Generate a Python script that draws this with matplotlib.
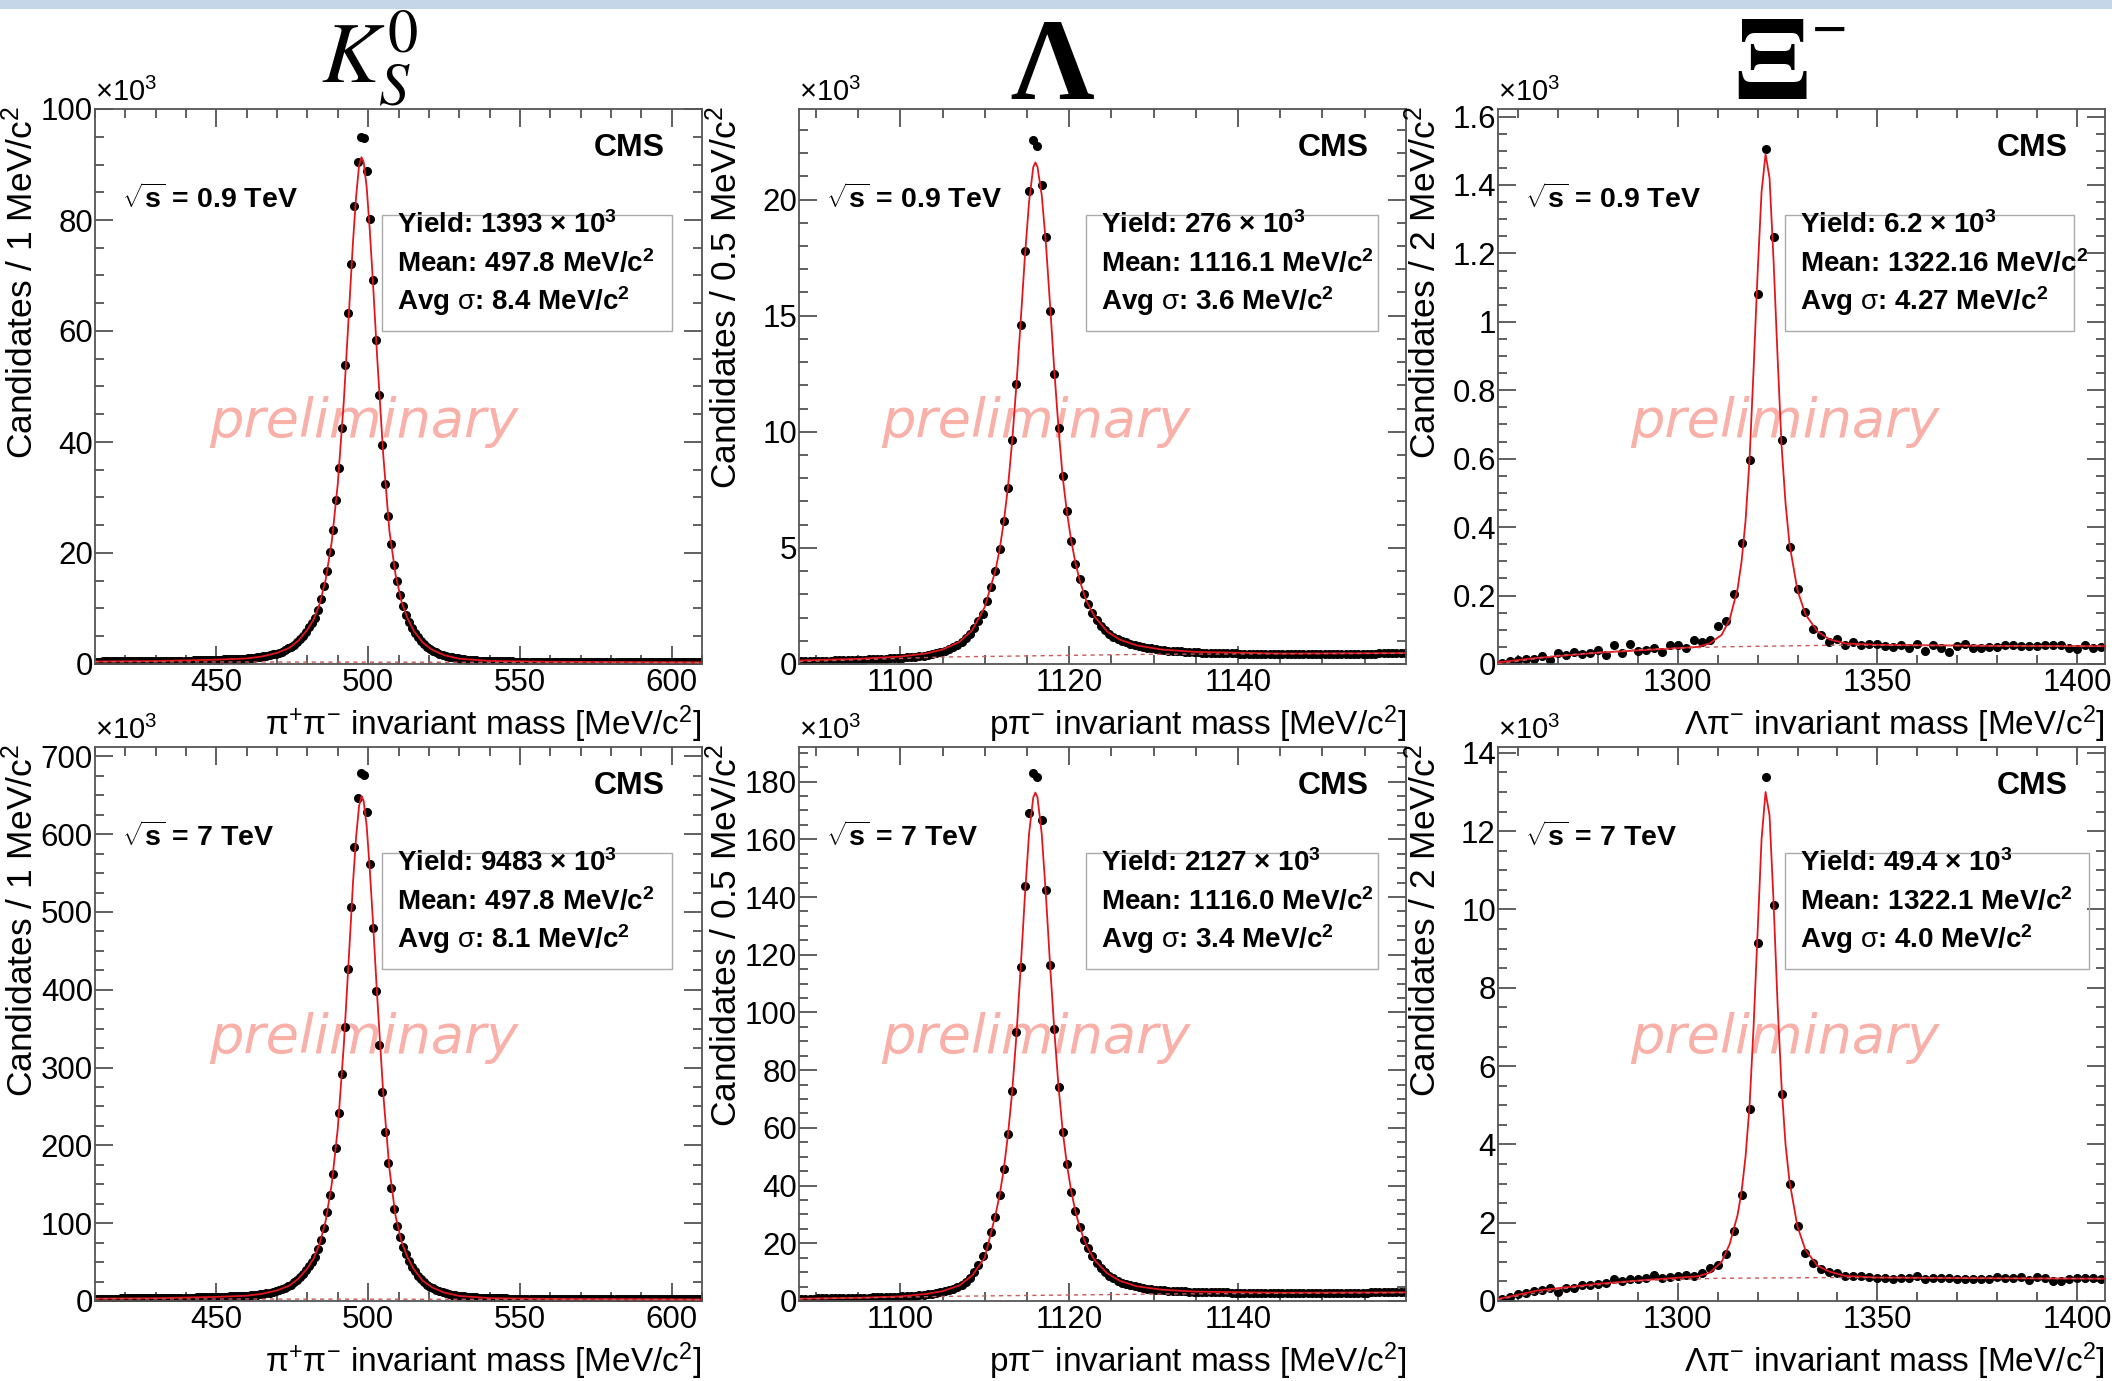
import numpy as np
import matplotlib
matplotlib.use('Agg')
import matplotlib.pyplot as plt
from matplotlib.patches import Rectangle
from matplotlib.ticker import MultipleLocator, FuncFormatter

plt.rcParams['font.family'] = ['Liberation Sans', 'DejaVu Sans']
plt.rcParams['mathtext.fontset'] = 'custom'
plt.rcParams['mathtext.rm'] = 'Liberation Sans'
plt.rcParams['mathtext.it'] = 'Liberation Sans:italic'
plt.rcParams['mathtext.bf'] = 'Liberation Sans:bold'

# bin centres (MeV/c^2)
k0s_x = np.arange(410.5, 610.0, 1.0)
lam_x = np.arange(1088.25, 1160.0, 0.5)
xi_x = np.arange(1256.0, 1407.0, 2.0)

# ---- K0S, candidates x10^3 per 1 MeV ----
k0s_09 = [0.45, 0.45, 0.46, 0.46, 0.46, 0.47, 0.47, 0.47, 0.48, 0.48,
          0.48, 0.49, 0.49, 0.50, 0.50, 0.51, 0.51, 0.52, 0.52, 0.53,
          0.53, 0.54, 0.55, 0.55, 0.56, 0.57, 0.58, 0.59, 0.60, 0.61,
          0.62, 0.63, 0.64, 0.66, 0.67, 0.69, 0.70, 0.72, 0.74, 0.76,
          0.78, 0.80, 0.82, 0.84, 0.86, 0.88, 0.90, 0.92, 0.94, 0.97,
          1.01, 1.07, 1.13, 1.20, 1.28, 1.37, 1.47, 1.59, 1.72, 1.87,
          2.05, 2.25, 2.50, 2.80, 3.10, 3.50, 4.00, 4.50, 5.10, 5.80,
          6.60, 7.40, 8.30, 9.80, 11.8, 14.0, 16.8, 20.2, 24.1, 29.5,
          35.3, 42.6, 53.9, 63.3, 72.1, 82.5, 90.5, 94.9, 94.8, 88.9,
          80.1, 69.2, 58.3, 48.4, 39.5, 32.4, 26.7, 21.7, 17.8, 14.9,
          12.4, 10.4, 8.9, 7.6, 6.5, 5.6, 4.8, 4.1, 3.6, 3.1,
          2.7, 2.4, 2.1, 1.85, 1.65, 1.48, 1.33, 1.2, 1.09, 1.0,
          0.92, 0.85, 0.79, 0.74, 0.70, 0.66, 0.63, 0.60, 0.58, 0.56,
          0.54, 0.52, 0.51, 0.50, 0.49, 0.48, 0.47, 0.46, 0.45, 0.45,
          0.44, 0.44, 0.43, 0.43, 0.42, 0.42, 0.41, 0.41, 0.41, 0.40,
          0.40, 0.40, 0.39, 0.39, 0.39, 0.38, 0.38, 0.38, 0.37, 0.37,
          0.37, 0.37, 0.36, 0.36, 0.36, 0.36, 0.35, 0.35, 0.35, 0.35,
          0.34, 0.34, 0.34, 0.34, 0.33, 0.33, 0.33, 0.33, 0.33, 0.32,
          0.32, 0.32, 0.32, 0.32, 0.31, 0.31, 0.31, 0.31, 0.31, 0.30,
          0.30, 0.30, 0.30, 0.30, 0.30, 0.29, 0.29, 0.29, 0.29, 0.29]
k0s_7 = [3.0, 3.0, 3.1, 3.1, 3.1, 3.2, 3.2, 3.2, 3.3, 3.3,
         3.3, 3.3, 3.4, 3.4, 3.4, 3.5, 3.5, 3.5, 3.6, 3.6,
         3.6, 3.7, 3.7, 3.8, 3.8, 3.9, 3.9, 4.0, 4.1, 4.1,
         4.2, 4.3, 4.4, 4.5, 4.6, 4.7, 4.8, 4.9, 5.0, 5.2,
         5.3, 5.4, 5.6, 5.7, 5.9, 6.0, 6.2, 6.3, 6.5, 6.6,
         6.9, 7.3, 7.7, 8.2, 8.7, 9.3, 10.0, 10.8, 11.7, 12.7,
         13.9, 15.3, 17.0, 19.0, 21.1, 23.8, 27.2, 30.6, 34.7, 39.4,
         44.9, 50.3, 56.4, 66.6, 79, 94, 114, 136, 163, 197,
         241, 292, 352, 427, 507, 584, 647, 678, 676, 629,
         562, 479, 399, 329, 268, 217, 178, 145, 118, 97,
         82, 70, 60, 51.5, 44, 38, 32.6, 27.9, 24.5, 21.1,
         18.4, 16.3, 14.3, 12.6, 11.2, 10.1, 9.0, 8.2, 7.4, 6.8,
         6.3, 5.8, 5.4, 5.0, 4.8, 4.5, 4.3, 4.1, 3.9, 3.8,
         3.7, 3.5, 3.5, 3.4, 3.3, 3.3, 3.2, 3.1, 3.1, 3.1,
         3.0, 3.0, 2.9, 2.9, 2.9, 2.9, 2.8, 2.8, 2.8, 2.7,
         2.7, 2.7, 2.7, 2.7, 2.7, 2.6, 2.6, 2.6, 2.5, 2.5,
         2.5, 2.5, 2.5, 2.5, 2.4, 2.4, 2.4, 2.4, 2.4, 2.4,
         2.3, 2.3, 2.3, 2.3, 2.3, 2.2, 2.2, 2.2, 2.2, 2.2,
         2.2, 2.2, 2.2, 2.2, 2.1, 2.1, 2.1, 2.1, 2.1, 2.1,
         2.1, 2.1, 2.0, 2.0, 2.0, 2.0, 2.0, 2.0, 2.0, 2.0]
k0s_fit_x = [410, 430, 450, 460, 465, 470, 474, 477, 480, 482,
             484, 486, 488, 490, 492, 494, 495, 496, 497, 497.8,
             498.5, 499.5, 500.5, 501.5, 503, 505, 507, 509, 511, 513,
             515, 518, 521, 525, 530, 540, 560, 610]
k0s_fit_09 = [0.45, 0.53, 0.78, 1.0, 1.35, 2.0, 2.9, 4.2, 6.2, 8.0,
              10.8, 15.2, 22.0, 32.5, 47.5, 66.5, 76.0, 84.0, 89.8, 91.3,
              90.5, 86.0, 78.5, 69.5, 55.0, 37.5, 24.0, 16.2, 11.2, 8.2,
              6.0, 3.85, 2.6, 1.6, 0.95, 0.55, 0.4, 0.3]
k0s_fit_7 = [3.0, 3.6, 5.3, 6.8, 9.2, 13.6, 19.7, 28.6, 42.2, 54.4,
             73.4, 103, 150, 222, 330, 466, 537, 595, 636, 649,
             643, 611, 557, 493, 390, 265, 170, 110, 76, 56,
             41, 26, 17.7, 10.9, 6.5, 3.7, 2.7, 2.0]
k0s_bkg_x = [410, 610]
k0s_bkg_09 = [0.40, 0.25]
k0s_bkg_7 = [2.8, 1.8]

# ---- Lambda, candidates x10^3 per 0.5 MeV ----
lam_09 = [0.12, 0.12, 0.13, 0.13, 0.14, 0.14, 0.15, 0.15, 0.16, 0.16,
          0.17, 0.17, 0.18, 0.18, 0.19, 0.19, 0.20, 0.21, 0.21, 0.22,
          0.23, 0.24, 0.25, 0.26, 0.27, 0.28, 0.30, 0.32, 0.34, 0.36,
          0.40, 0.44, 0.48, 0.53, 0.58, 0.64, 0.72, 0.82, 0.95, 1.10,
          1.28, 1.57, 1.86, 2.14, 2.72, 3.33, 4.02, 4.96, 6.16, 7.56,
          9.65, 12.06, 14.58, 17.80, 20.36, 22.58, 22.32, 20.63, 18.37, 15.20,
          12.48, 10.18, 8.08, 6.58, 5.30, 4.29, 3.67, 3.02, 2.58, 2.20,
          1.91, 1.65, 1.45, 1.30, 1.18, 1.08, 1.00, 0.93, 0.87, 0.82,
          0.77, 0.73, 0.70, 0.67, 0.64, 0.62, 0.60, 0.58, 0.57, 0.55,
          0.54, 0.53, 0.52, 0.51, 0.50, 0.49, 0.49, 0.48, 0.48, 0.47,
          0.47, 0.46, 0.46, 0.46, 0.45, 0.45, 0.45, 0.45, 0.44, 0.44,
          0.44, 0.44, 0.44, 0.43, 0.43, 0.43, 0.43, 0.43, 0.43, 0.43,
          0.43, 0.43, 0.43, 0.43, 0.43, 0.43, 0.43, 0.44, 0.44, 0.44,
          0.44, 0.44, 0.44, 0.45, 0.45, 0.45, 0.45, 0.46, 0.46, 0.46,
          0.47, 0.47, 0.48, 0.48]
lam_7 = [0.80, 0.82, 0.84, 0.86, 0.88, 0.90, 0.92, 0.94, 0.96, 0.98,
         1.00, 1.03, 1.06, 1.09, 1.12, 1.15, 1.19, 1.23, 1.27, 1.31,
         1.36, 1.41, 1.47, 1.53, 1.60, 1.68, 1.77, 1.87, 1.98, 2.12,
         2.3, 2.5, 2.75, 3.05, 3.4, 3.8, 4.3, 4.9, 5.6, 6.6,
         7.8, 10.1, 12.4, 15.6, 19.1, 23.8, 29.1, 36.9, 45.9, 58.0,
         72.8, 93.3, 115.9, 143.9, 169.0, 183.0, 181.5, 166.7, 142.6, 116.6,
         94.1, 74.3, 58.6, 47.4, 37.8, 31.1, 25.7, 21.3, 18.2, 15.6,
         13.3, 11.5, 10.0, 8.8, 7.8, 7.0, 6.4, 5.9, 5.5, 5.1,
         4.8, 4.5, 4.3, 4.1, 3.95, 3.8, 3.7, 3.6, 3.5, 3.4,
         3.35, 3.3, 3.25, 3.2, 3.15, 3.1, 3.1, 3.05, 3.0, 3.0,
         2.95, 2.95, 2.9, 2.9, 2.9, 2.85, 2.85, 2.85, 2.85, 2.8,
         2.8, 2.8, 2.8, 2.8, 2.8, 2.8, 2.8, 2.8, 2.8, 2.8,
         2.8, 2.8, 2.8, 2.8, 2.8, 2.85, 2.85, 2.85, 2.85, 2.85,
         2.9, 2.9, 2.9, 2.9, 2.9, 2.95, 2.95, 2.95, 3.0, 3.0,
         3.0, 3.0, 3.05, 3.05]
lam_fit_x = [1088, 1095, 1100, 1103, 1105, 1107, 1108.5, 1110,
             1111.25, 1111.75, 1112.25, 1112.75, 1113.25, 1113.75, 1114.25,
             1114.75, 1115.25, 1115.75, 1116.0, 1116.25, 1116.75, 1117.25,
             1117.75, 1118.25, 1118.75, 1119.25, 1119.75, 1120.25, 1120.75,
             1121.25, 1122, 1123, 1124.5, 1126, 1128, 1131, 1135, 1145, 1160]
lam_fit_09 = [0.15, 0.22, 0.32, 0.45, 0.62, 0.95, 1.45, 2.45,
              4.0, 4.9, 6.1, 7.6, 9.6, 12.0, 14.7,
              17.5, 19.9, 21.4, 21.6, 21.4, 20.2, 18.1,
              15.4, 12.6, 10.1, 8.0, 6.5, 5.3, 4.35,
              3.6, 2.75, 2.05, 1.4, 1.05, 0.8, 0.62, 0.52, 0.45, 0.47]
lam_fit_7 = [0.8, 1.1, 1.6, 2.4, 3.4, 5.4, 8.8, 15.0,
             29.5, 36.5, 45.5, 57.5, 72.5, 92.0, 115.0,
             140.0, 162.0, 174.5, 176.2, 174.5, 162.0, 140.5,
             116.0, 93.5, 74.0, 58.5, 47.0, 38.0, 31.0,
             25.5, 19.5, 14.2, 9.6, 7.0, 5.1, 3.9, 3.25, 2.85, 3.0]
lam_bkg_x = [1088, 1105, 1130, 1160]
lam_bkg_09 = [0.10, 0.30, 0.42, 0.46]
lam_bkg_7 = [0.7, 1.6, 2.4, 2.9]

# ---- Xi-, candidates x10^3 per 2 MeV ----
xi_09 = [0.003, 0.010, 0.013, 0.014, 0.016, 0.023, 0.013, 0.033, 0.026, 0.036,
         0.029, 0.033, 0.042, 0.026, 0.056, 0.033, 0.059, 0.039, 0.042, 0.046,
         0.036, 0.055, 0.056, 0.046, 0.069, 0.065, 0.069, 0.111, 0.126, 0.205,
         0.354, 0.597, 1.081, 1.505, 1.248, 0.655, 0.343, 0.218, 0.152, 0.102,
         0.085, 0.065, 0.074, 0.055, 0.065, 0.055, 0.058, 0.057, 0.052, 0.050,
         0.055, 0.048, 0.058, 0.038, 0.055, 0.048, 0.035, 0.052, 0.058, 0.048,
         0.047, 0.050, 0.050, 0.055, 0.055, 0.052, 0.052, 0.052, 0.055, 0.055,
         0.055, 0.047, 0.045, 0.055, 0.047, 0.050]
xi_7 = [0.06, 0.11, 0.17, 0.20, 0.26, 0.28, 0.32, 0.23, 0.32, 0.34,
        0.40, 0.40, 0.43, 0.46, 0.55, 0.51, 0.57, 0.57, 0.59, 0.66,
        0.59, 0.62, 0.63, 0.66, 0.63, 0.72, 0.85, 0.91, 1.20, 1.79,
        2.71, 4.90, 9.14, 13.39, 10.12, 5.28, 2.99, 1.91, 1.23, 0.97,
        0.83, 0.74, 0.71, 0.63, 0.63, 0.63, 0.62, 0.60, 0.59, 0.56,
        0.58, 0.60, 0.64, 0.55, 0.60, 0.58, 0.60, 0.56, 0.55, 0.55,
        0.56, 0.56, 0.61, 0.58, 0.60, 0.62, 0.54, 0.62, 0.60, 0.52,
        0.50, 0.57, 0.58, 0.58, 0.58, 0.57]
xi_fit_x = [1255, 1265, 1280, 1295, 1305, 1308, 1311, 1313, 1315, 1316,
            1317, 1318, 1319, 1320, 1321, 1322, 1323, 1324, 1325, 1326,
            1327, 1328, 1330, 1332, 1335, 1338, 1342, 1350, 1380, 1407]
xi_fit_09 = [0.005, 0.018, 0.033, 0.043, 0.05, 0.06, 0.085, 0.13, 0.22, 0.30,
             0.42, 0.60, 0.86, 1.14, 1.38, 1.49, 1.42, 1.18, 0.90, 0.64,
             0.47, 0.35, 0.215, 0.145, 0.095, 0.072, 0.06, 0.056, 0.053, 0.052]
xi_fit_7 = [0.05, 0.27, 0.44, 0.56, 0.63, 0.72, 1.0, 1.45, 2.2, 2.8,
            3.7, 5.0, 7.0, 9.4, 11.8, 13.0, 12.4, 10.2, 7.6, 5.5,
            4.0, 3.05, 1.9, 1.3, 0.9, 0.75, 0.64, 0.6, 0.58, 0.57]
xi_bkg_x = [1255, 1270, 1290, 1310, 1340, 1407]
xi_bkg_09 = [0.0, 0.025, 0.042, 0.05, 0.055, 0.052]
xi_bkg_7 = [0.04, 0.3, 0.52, 0.58, 0.6, 0.57]

# fit results shown in the boxes
energies = [['0.9', '0.9', '0.9'], ['7', '7', '7']]
yields = [['1393', '276', '6.2'], ['9483', '2127', '49.4']]
means = [['497.8', '1116.1', '1322.16'], ['497.8', '1116.0', '1322.1']]
sigmas = [['8.4', '3.6', '4.27'], ['8.1', '3.4', '4.0']]

titles = [r'$K^{0}_{S}$', 'Λ', r'$\mathbf{\Xi}$']
ylabels = ['Candidates / 1 MeV/c$^{2}$', 'Candidates / 0.5 MeV/c$^{2}$',
           'Candidates / 2 MeV/c$^{2}$']
xlabels = ['π$^{+}$π$^{-}$ invariant mass [MeV/c$^{2}$]',
           'pπ$^{-}$ invariant mass [MeV/c$^{2}$]',
           'Λπ$^{-}$ invariant mass [MeV/c$^{2}$]']

data = [[(k0s_x, k0s_09, k0s_fit_x, k0s_fit_09, k0s_bkg_x, k0s_bkg_09),
         (lam_x, lam_09, lam_fit_x, lam_fit_09, lam_bkg_x, lam_bkg_09),
         (xi_x, xi_09, xi_fit_x, xi_fit_09, xi_bkg_x, xi_bkg_09)],
        [(k0s_x, k0s_7, k0s_fit_x, k0s_fit_7, k0s_bkg_x, k0s_bkg_7),
         (lam_x, lam_7, lam_fit_x, lam_fit_7, lam_bkg_x, lam_bkg_7),
         (xi_x, xi_7, xi_fit_x, xi_fit_7, xi_bkg_x, xi_bkg_7)]]

xlims = [(410, 610), (1088, 1159.9), (1255, 1407)]
xmaj = [50, 20, 50]
xmin = [10, 5, 10]
ylims = [[100.0, 23.9, 1.622], [712.0, 192.0, 14.15]]
ymaj = [[20, 5, 0.2], [100, 20, 2]]
ymin = [[5, 1, 0.05], [25, 5, 0.5]]
box_right = [[0.951, 0.954, 0.949], [0.951, 0.954, 0.974]]
prelim_x = [0.443, 0.39, 0.473]
prelim_y = [0.436, 0.475]

W, H = 2112, 1381
col_left = [95, 799, 1498]
row_top = [109, 747]
ax_w = 607
ax_h = [555, 554]

fig = plt.figure(figsize=(W / 100, H / 100), dpi=100)
fig.add_artist(Rectangle((0, 1 - 9 / H), 1, 9 / H, transform=fig.transFigure,
                         color='#c4d6e7', lw=0))

fmt = FuncFormatter(lambda v, p: '%g' % v)

for r in range(2):
    for c in range(3):
        x, y, fx, fy, bx, by = data[r][c]
        ax = fig.add_axes([col_left[c] / W, 1 - (row_top[r] + ax_h[r]) / H,
                           ax_w / W, ax_h[r] / H])
        ax.plot(x, y, 'o', color='black', ms=5.5, zorder=2)
        ax.plot(fx, fy, color='#e3161e', lw=1.3, zorder=3)
        ax.plot(bx, by, color='#c85a5a', lw=1.0, ls=(0, (3, 3)), zorder=4)
        ax.set_xlim(*xlims[c])
        ax.set_ylim(0, ylims[r][c])
        ax.xaxis.set_major_locator(MultipleLocator(xmaj[c]))
        ax.xaxis.set_minor_locator(MultipleLocator(xmin[c]))
        ax.yaxis.set_major_locator(MultipleLocator(ymaj[r][c]))
        ax.yaxis.set_minor_locator(MultipleLocator(ymin[r][c]))
        ax.xaxis.set_major_formatter(fmt)
        ax.yaxis.set_major_formatter(fmt)
        ax.tick_params(which='both', direction='in', top=True, right=True,
                       color='#444444', width=1.2, labelsize=22.5)
        ax.tick_params(which='major', length=13)
        ax.tick_params(which='minor', length=6.5)
        ax.tick_params(axis='x', pad=3.0)
        ax.tick_params(axis='y', pad=1.5)
        for s in ax.spines.values():
            s.set_color('#555555')
            s.set_linewidth(1.3)

        ax.text(0.0, 1.004, '×10$^{3}$', transform=ax.transAxes,
                ha='left', va='bottom', fontsize=21)
        ax.text(1.0, -0.108, xlabels[c], transform=ax.transAxes,
                ha='right', va='center', fontsize=24)
        ax.text(0.938, 0.93, 'CMS', transform=ax.transAxes, ha='right',
                va='center', fontsize=23, fontweight='bold')
        ax.text(0.045, 0.838, r'$\sqrt{\mathbf{s}}$ = %s TeV' % energies[r][c],
                transform=ax.transAxes, ha='left', va='center',
                fontsize=20.5, fontweight='bold')
        ax.add_patch(Rectangle((0.472, 0.600), box_right[r][c] - 0.472, 0.209,
                               transform=ax.transAxes, fill=False,
                               ec='#aaaaaa', lw=1.0, zorder=5))
        lines = ['Yield: %s × 10$^{\\mathbf{3}}$' % yields[r][c],
                 'Mean: %s MeV/c$^{\\mathbf{2}}$' % means[r][c],
                 'Avg $\\mathrm{\\sigma}$: %s MeV/c$^{\\mathbf{2}}$' % sigmas[r][c]]
        for ln, yy in zip(lines, [0.777, 0.706, 0.638]):
            ax.text(0.497, yy, ln, transform=ax.transAxes, ha='left',
                    va='baseline', fontsize=20, fontweight='bold', zorder=6)
        ax.text(prelim_x[c], prelim_y[r], 'preliminary', transform=ax.transAxes,
                ha='center', va='center', fontsize=39, fontstyle='italic',
                fontweight=200, family='DejaVu Sans', color='#f8b0a8', zorder=1)

        fig.text((col_left[c] - 55) / W, 1 - (row_top[r] - 3) / H, ylabels[c],
                 rotation=90, ha='right', va='top', fontsize=25.5)

# particle names above the columns
fig.text(370 / W, 1 - 83 / H, titles[0], math_fontfamily='stix', fontsize=62,
         ha='center', va='baseline')
fig.text(1052 / W, 1 - 99 / H, titles[1], family='Liberation Serif',
         fontweight='bold', fontsize=84, ha='center', va='baseline')
fig.text(1733 / W, 1 - 99 / H, titles[2], math_fontfamily='stix',
         fontsize=86, ha='left', va='baseline')
fig.text(1828 / W, 1 - 28 / H, r'$\mathbf{-}$', math_fontfamily='stix',
         fontsize=34, ha='center', va='center')

fig.savefig('out.png', dpi=100)
